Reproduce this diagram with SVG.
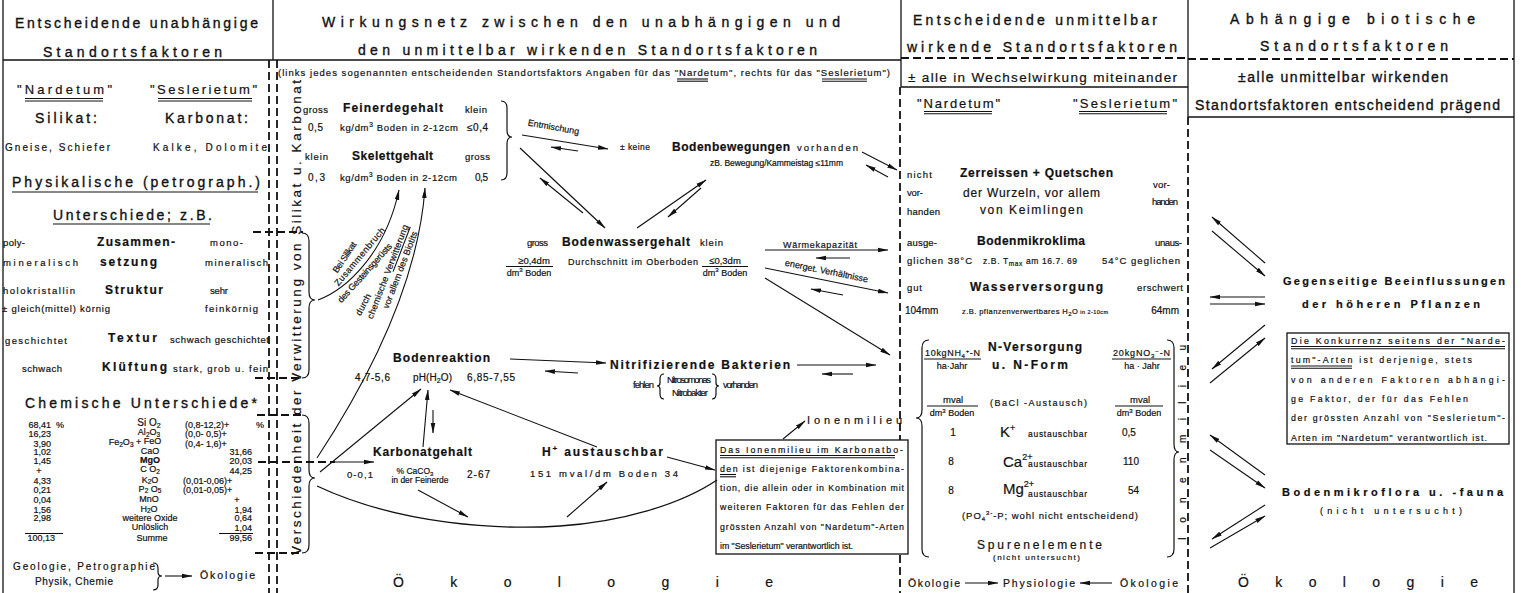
<svg xmlns="http://www.w3.org/2000/svg" width="1521" height="593" viewBox="0 0 1521 593">
<defs>
<marker id="ah" markerWidth="11" markerHeight="6" refX="10" refY="3" orient="auto" markerUnits="userSpaceOnUse"><path d="M0,0.7 L10.5,3 L0,5.3 z" fill="#111"/></marker>
</defs>
<style>
text{font-family:"Liberation Sans",Arial,sans-serif;fill:#111;stroke:#111;stroke-width:0.2}
.h{font-size:14px;stroke-width:0.35}
.b{font-weight:bold;font-size:12px}
.s{font-size:9.5px}
.xs{font-size:8.5px}
.c{text-anchor:middle}
.e{text-anchor:end}
.ln{stroke:#111;stroke-width:1.3;fill:none}
.ul{stroke:#111;stroke-width:1.1;fill:none}
.dl{stroke:#111;stroke-width:1.8;fill:none;stroke-dasharray:8 4}
.ar{stroke:#111;stroke-width:1.1;fill:none;marker-end:url(#ah)}
.br{stroke:#111;stroke-width:1.2;fill:none}
</style>
<rect width="1521" height="593" fill="#fff"/>

<g id="frame">
<line class="ln" x1="3" y1="0" x2="3" y2="593" stroke-width="2"/>
<line class="ln" x1="1514" y1="0" x2="1514" y2="593" stroke-width="2"/>
<line class="ln" x1="3" y1="60" x2="901" y2="60"/>
<line class="ln" x1="273" y1="0" x2="273" y2="60"/>
<line class="ln" x1="901" y1="0" x2="901" y2="87"/>
<line class="ln" x1="1188" y1="0" x2="1188" y2="117"/>
<line class="dl" x1="901" y1="58" x2="1188" y2="58"/>
<line class="ln" x1="901" y1="87" x2="1188" y2="87"/>
<line class="dl" x1="1188" y1="59" x2="1514" y2="59"/>
<line class="ln" x1="1188" y1="117" x2="1514" y2="117"/>
<line class="dl" x1="269" y1="60" x2="269" y2="593"/>
<line class="dl" x1="277" y1="60" x2="277" y2="593"/>
<line class="dl" x1="900" y1="87" x2="900" y2="593"/>
<line class="dl" x1="1188" y1="117" x2="1188" y2="593"/>
<line class="dl" x1="253" y1="232" x2="303" y2="232"/>
<line class="dl" x1="255" y1="378" x2="303" y2="378"/>
<line class="dl" x1="257" y1="415" x2="303" y2="415"/>
<line class="dl" x1="255" y1="553" x2="303" y2="553"/>
</g>

<g id="col1-header">
<text class="h" x="15" y="28" textLength="243">Entscheidende unabhängige</text>
<text class="h" x="43" y="57" textLength="179">Standortsfaktoren</text>
</g>

<g id="col1-gesteine">
<text x="17" y="94" font-size="13" textLength="95">"Nardetum"</text>
<text x="150" y="94" font-size="13" textLength="107">"Seslerietum"</text>
<line class="ul" x1="25" y1="98.5" x2="103" y2="98.5"/><line class="ul" x1="25" y1="101" x2="103" y2="101" stroke-width="0.7"/>
<line class="ul" x1="158" y1="98.5" x2="252" y2="98.5"/><line class="ul" x1="158" y1="101" x2="252" y2="101" stroke-width="0.7"/>
<text class="h" x="35" y="123" textLength="62">Silikat:</text>
<text class="h" x="165" y="123" textLength="83">Karbonat:</text>
<text x="5" y="150.5" font-size="10" textLength="105">Gneise, Schiefer</text>
<text x="153" y="150.5" font-size="10" textLength="114">Kalke, Dolomite</text>
</g>

<g id="col1-physik">
<text class="h" x="12" y="187" textLength="248">Physikalische (petrograph.)</text>
<line class="ul" x1="12" y1="192" x2="258" y2="192"/>
<text class="h" x="53" y="220" textLength="159">Unterschiede; z.B.</text>
<line class="ul" x1="53" y1="224" x2="210" y2="224"/>
<text class="s" x="3" y="246" textLength="22">poly-</text>
<text class="b" x="97" y="246" textLength="78">Zusammen-</text>
<text class="s" x="210" y="246" textLength="33">mono-</text>
<text class="s" x="3" y="265.5" textLength="75">mineralisch</text>
<text class="b" x="100" y="266" textLength="57">setzung</text>
<text class="s" x="205" y="265.5" textLength="63">mineralisch</text>
<text class="s" x="3" y="293.5" textLength="72">holokristallin</text>
<text class="b" x="105" y="294" textLength="58">Struktur</text>
<text class="s" x="210" y="293.5" textLength="18">sehr</text>
<text class="s" x="2" y="311.5" textLength="108">± gleich(mittel) körnig</text>
<text class="s" x="205" y="311.5" textLength="53">feinkörnig</text>
<text class="s" x="5" y="343.5" textLength="62">geschichtet</text>
<text class="b" x="108" y="341.5" textLength="49">Textur</text>
<text class="s" x="170" y="342.5" textLength="99">schwach geschichtet</text>
<text class="s" x="22" y="371.5" textLength="40">schwach</text>
<text class="b" x="102" y="371" textLength="65">Klüftung</text>
<text class="s" x="173" y="371.5" textLength="95">stark, grob u. fein</text>
</g>

<g id="col1-chemie" font-size="9">
<text class="h" x="25" y="408" textLength="232">Chemische Unterschiede*</text>
<text class="e" x="51" y="427.5">68,41</text><text x="56" y="427.5">%</text>
<text class="e" x="51" y="437">16,23</text>
<text class="e" x="51" y="446.5">3,90</text>
<text class="e" x="51" y="454.5">1,02</text>
<text class="e" x="51" y="463.5">1,45</text>
<text class="c" x="39" y="473.5">+</text>
<text class="e" x="51" y="483.5">4,33</text>
<text class="e" x="51" y="493">0,21</text>
<text class="e" x="51" y="503">0,04</text>
<text class="e" x="51" y="513">1,56</text>
<text class="e" x="51" y="521">2,98</text>
<text class="e" x="55" y="541">100,13</text>
<line class="ul" x1="25" y1="533.5" x2="63" y2="533.5"/>
<text class="c" x="149" y="426" font-size="10">Si O<tspan dy="2" font-size="7">2</tspan></text>
<text class="c" x="149" y="435">Al<tspan dy="1.5" font-size="6.5">2</tspan><tspan dy="-1.5">O</tspan><tspan dy="1.5" font-size="6.5">3</tspan></text>
<text class="c" x="135" y="445">Fe<tspan dy="1.5" font-size="6.5">2</tspan><tspan dy="-1.5">O</tspan><tspan dy="1.5" font-size="6.5">3</tspan><tspan dy="-1.5"> + </tspan><tspan dy="-1">FeO</tspan></text>
<text class="c" x="150" y="454">CaO</text>
<text class="c" x="150" y="463" font-weight="bold">MgO</text>
<text class="c" x="150" y="472">C O<tspan dy="1.5" font-size="6.5">2</tspan></text>
<text class="c" x="150" y="482.5">K<tspan dy="1.5" font-size="6.5">2</tspan><tspan dy="-1.5">O</tspan></text>
<text class="c" x="150" y="491.5">P<tspan dy="1.5" font-size="6.5">2</tspan><tspan dy="-1.5"> O</tspan><tspan dy="1.5" font-size="6.5">5</tspan></text>
<text class="c" x="149" y="502">MnO</text>
<text class="c" x="149" y="511.5">H<tspan dy="1.5" font-size="6.5">2</tspan><tspan dy="-1.5">O</tspan></text>
<text class="c" x="150" y="520.5">weitere Oxide</text>
<text class="c" x="150" y="530">Unlöslich</text>
<text class="c" x="152" y="540.5">Summe</text>
<text x="185" y="427.5">(0,8-12,2)+</text><text x="256" y="427.5">%</text>
<text x="185" y="437">(0,0- 0,5)+</text>
<text x="185" y="446.5">(0,4- 1,6)+</text>
<text class="e" x="252" y="454.5">31,66</text>
<text class="e" x="252" y="463.5">20,03</text>
<text class="e" x="252" y="473.5">44,25</text>
<text x="183" y="483.5">(0,01-0,06)+</text>
<text x="183" y="493">(0,01-0,05)+</text>
<text class="c" x="237" y="503">+</text>
<text class="e" x="252" y="513">1,94</text>
<text class="e" x="252" y="521">0,64</text>
<text class="e" x="252" y="530.5">1,04</text>
<line class="ul" x1="219" y1="533.5" x2="253" y2="533.5"/>
<text class="e" x="252" y="541">99,56</text>
</g>

<g id="col1-footer">
<text x="13" y="570" font-size="10" textLength="142">Geologie, Petrographie</text>
<text x="35" y="585" font-size="10" textLength="78">Physik, Chemie</text>
<path class="br" d="M153,563 Q158,563 158,568 L158,572 Q158,576 162,576 Q158,576 158,580 L158,585 Q158,590 153,590"/>
<text x="200" y="579" font-size="10.5" textLength="55">Ökologie</text>
</g>

<g id="col2-header">
<text class="h" x="322" y="27" textLength="518">Wirkungsnetz zwischen den unabhängigen und</text>
<text class="h" x="358" y="55" textLength="459">den unmittelbar wirkenden Standortsfaktoren</text>
<text class="s" x="278" y="75.5" textLength="612">(links jedes sogenannten entscheidenden Standortsfaktors Angaben für das "Nardetum", rechts für das "Seslerietum")</text>
<line class="ul" x1="677" y1="79" x2="708" y2="79"/><line class="ul" x1="677" y1="81.2" x2="708" y2="81.2" stroke-width="0.7"/>
<line class="ul" x1="822" y1="79" x2="867" y2="79"/><line class="ul" x1="822" y1="81.2" x2="867" y2="81.2" stroke-width="0.7"/>
</g>

<g id="col2-verwitterung">
<text transform="translate(301,555) rotate(-90)" font-size="13.5" stroke-width="0.35" textLength="475">Verschiedenheit der Verwitterung von Silikat u. Karbonat</text>
<path class="br" d="M302,233 Q309,233 309,241 L309,292 Q309,300 315,300 Q309,300 309,308 L309,370 Q309,378 302,378"/>
<path class="br" d="M302,415 Q309,415 309,423 L309,470 Q309,478 315,478 Q309,478 309,486 L309,545 Q309,553 302,553"/>
<text transform="translate(347,259) rotate(-56)" class="c" font-size="9" textLength="35">Bei Silikat</text>
<text transform="translate(362,258.5) rotate(-50)" class="c" font-size="9" textLength="73">Zusammenbruch</text>
<text transform="translate(367,275) rotate(-48)" class="c" font-size="9" textLength="76">des Gesteinsgerüsts</text>
<text transform="translate(366,306) rotate(-62)" class="c" font-size="9" textLength="23">durch</text>
<g transform="translate(390.5,272.8) rotate(-69)"><text class="c" font-size="9" textLength="100">chemische Verwitterung</text><line class="ul" x1="2" y1="2" x2="50" y2="2"/></g>
<text transform="translate(403,271) rotate(-69)" class="c" font-size="9" textLength="82">vor allem des Biotits</text>
</g>

<g id="feinerde-skelett">
<text class="s" x="303" y="113" textLength="25">gross</text>
<text class="b" x="343" y="112" textLength="100">Feinerdegehalt</text>
<text class="s" x="465" y="113" textLength="22">klein</text>
<text x="308" y="131" font-size="10" textLength="15">0,5</text>
<text class="s" x="340" y="131" textLength="118">kg/dm<tspan dy="-4" font-size="6.5">3</tspan><tspan dy="4"> Boden in 2-12cm</tspan></text>
<text x="467" y="131" font-size="10" textLength="21">≤0,4</text>
<text class="s" x="305" y="160" textLength="23">klein</text>
<text class="b" x="352" y="160" textLength="81">Skelettgehalt</text>
<text class="s" x="465" y="160" textLength="25">gross</text>
<text x="308" y="181" font-size="10" textLength="17">0,3</text>
<text class="s" x="340" y="181" textLength="117">kg/dm<tspan dy="-4" font-size="6.5">3</tspan><tspan dy="4"> Boden in 2-12cm</tspan></text>
<text x="475" y="181" font-size="10" textLength="13">0,5</text>
<path class="br" d="M501,101 Q507,101 507,108 L507,130 Q507,137 512,137 Q507,137 507,144 L507,173 Q507,180 501,180"/>
</g>

<g id="bodenbewegungen">
<text x="620" y="150" font-size="8.5" textLength="30">± keine</text>
<text class="b" x="672" y="151" textLength="118">Bodenbewegungen</text>
<text class="s" x="797" y="151" textLength="61">vorhanden</text>
<text x="710" y="166" font-size="8.5" textLength="133">zB. Bewegung/Kammeistag   ≤11mm</text>
</g>

<g id="bodenwassergehalt">
<text class="s" x="527" y="245.5" textLength="21">gross</text>
<text class="b" x="562" y="246" textLength="128">Bodenwassergehalt</text>
<text class="s" x="700" y="245.5" textLength="23">klein</text>
<text class="c" x="534" y="264" font-size="9.5">≥0,4dm</text>
<line class="ul" x1="506" y1="266.5" x2="553" y2="266.5"/>
<text class="c" x="529" y="275.5" font-size="9">dm<tspan dy="-3.5" font-size="6">3</tspan><tspan dy="3.5"> Boden</tspan></text>
<text x="568" y="265" font-size="9" textLength="130">Durchschnitt im Oberboden</text>
<text class="c" x="725" y="264" font-size="9.5">≤0,3dm</text>
<line class="ul" x1="702" y1="266.5" x2="748" y2="266.5"/>
<text class="c" x="725" y="275.5" font-size="9">dm<tspan dy="-3.5" font-size="6">3</tspan><tspan dy="3.5"> Boden</tspan></text>
</g>

<g id="bodenreaktion">
<text class="b" x="393" y="362" textLength="97">Bodenreaktion</text>
<text x="355" y="381" font-size="10" textLength="35">4,7-5,6</text>
<text x="413" y="381" font-size="10" textLength="39">pH(H<tspan dy="2" font-size="7">2</tspan><tspan dy="-2">O)</tspan></text>
<text x="467" y="381" font-size="10" textLength="48">6,85-7,55</text>
</g>

<g id="nitrifizierende-bakterien">
<text class="b" x="610" y="369" textLength="180">Nitrifizierende Bakterien</text>
<text class="s" x="633" y="388" textLength="21">fehlen</text>
<path class="br" d="M664,374 Q660,374 660,379 L660,383 Q660,386 657,386 Q660,386 660,389 L660,394 Q660,399 664,399"/>
<text class="s" x="667" y="383" textLength="44">Nitrosomonas</text>
<text class="s" x="672" y="396" textLength="36">Nitrobakter</text>
<path class="br" d="M712,374 Q716,374 716,379 L716,383 Q716,386 719,386 Q716,386 716,389 L716,394 Q716,399 712,399"/>
<text class="s" x="723" y="388" textLength="35">vorhanden</text>
</g>

<g id="karbonatgehalt">
<text class="b" x="373" y="456" textLength="99">Karbonatgehalt</text>
<text x="347" y="478" font-size="9.5" textLength="26">0-0,1</text>
<text class="c" x="415" y="474" font-size="8.5">% CaCO<tspan dy="2" font-size="6">3</tspan></text>
<text class="c" x="420" y="483" font-size="8.5">in der Feinerde</text>
<text x="467" y="478" font-size="10" textLength="23">2-67</text>
</g>

<g id="h-austauschbar">
<text class="b" x="542" y="456" textLength="121">H<tspan dy="-5" font-size="8">+</tspan><tspan dy="5"> austauschbar</tspan></text>
<text x="530" y="477" font-size="9.5" textLength="148">151  mval/dm   Boden   34</text>
</g>

<g id="ionenmilieu-box">
<text x="807" y="424" font-size="11" textLength="95">Ionenmilieu</text>
<rect x="716" y="440" width="192" height="114" fill="#fff" stroke="#111" stroke-width="1.3"/>
<g font-size="8.8">
<text x="720" y="452.5" textLength="183">Das Ionenmilieu im Karbonatbo-</text>
<text x="720" y="471.5" textLength="184">den ist diejenige Faktorenkombina-</text>
<text x="720" y="490.5" textLength="184">tion, die allein oder in Kombination mit</text>
<text x="720" y="510" textLength="184">weiteren Faktoren für das Fehlen der</text>
<text x="720" y="529.5" textLength="184">grössten Anzahl von "Nardetum"-Arten</text>
<text x="720" y="548.5" textLength="133">im "Seslerietum" verantwortlich ist.</text>
</g>
<line class="ul" x1="720" y1="455.5" x2="895" y2="455.5"/><line class="ul" x1="720" y1="457.8" x2="895" y2="457.8" stroke-width="0.7"/>
<line class="ul" x1="720" y1="474.5" x2="736" y2="474.5"/><line class="ul" x1="720" y1="476.8" x2="736" y2="476.8" stroke-width="0.7"/>
</g>

<g id="col2-footer">
<text x="393" y="587" font-size="14" stroke-width="0.35" textLength="380">Ökologie</text>
</g>

<g id="col3-header">
<text class="h" x="913" y="25" textLength="244">Entscheidende unmittelbar</text>
<text class="h" x="907" y="52" textLength="270">wirkende Standortsfaktoren</text>
<text x="908" y="82" font-size="13.5" stroke-width="0.35" textLength="269">± alle in Wechselwirkung miteinander</text>
</g>

<g id="col3-gesellschaften">
<text x="917" y="108" font-size="13" textLength="83">"Nardetum"</text>
<text x="1073" y="108" font-size="13" textLength="104">"Seslerietum"</text>
<line class="ul" x1="924" y1="111.5" x2="992" y2="111.5"/><line class="ul" x1="924" y1="113.8" x2="992" y2="113.8" stroke-width="0.7"/>
<line class="ul" x1="1079" y1="111.5" x2="1167" y2="111.5"/><line class="ul" x1="1079" y1="113.8" x2="1167" y2="113.8" stroke-width="0.7"/>
</g>

<g id="zerreissen">
<text class="s" x="907" y="178" textLength="25">nicht</text>
<text class="b" x="960" y="177" textLength="153">Zerreissen + Quetschen</text>
<text class="s" x="1153" y="188" textLength="17">vor-</text>
<text class="s" x="907" y="196" textLength="16">vor-</text>
<text x="963" y="197" font-size="12" stroke-width="0.35" textLength="137">der Wurzeln, vor allem</text>
<text class="s" x="907" y="215" textLength="33">handen</text>
<text x="980" y="214" font-size="12" stroke-width="0.35" textLength="103">von Keimlingen</text>
<text class="s" x="1152" y="205" textLength="26">handen</text>
</g>

<g id="bodenmikroklima">
<text class="s" x="907" y="246" textLength="30">ausge-</text>
<text class="b" x="977" y="245" textLength="108">Bodenmikroklima</text>
<text class="s" x="1155" y="246" textLength="27">unaus-</text>
<text class="s" x="907" y="263.5" textLength="65">glichen 38°C</text>
<text x="983" y="263.5" font-size="8.5" textLength="94">z.B. T<tspan dy="2" font-size="6.5">max</tspan><tspan dy="-2"> am 16.7. 69</tspan></text>
<text class="s" x="1102" y="263.5" textLength="78">54°C geglichen</text>
</g>

<g id="wasserversorgung">
<text class="s" x="907" y="291" textLength="15">gut</text>
<text class="b" x="970" y="291" textLength="133">Wasserversorgung</text>
<text class="s" x="1137" y="291" textLength="46">erschwert</text>
<text x="905" y="313.5" font-size="10">104mm</text>
<text x="962" y="313.5" font-size="7.5" textLength="146">z.B. pflanzenverwertbares H<tspan dy="2" font-size="6">2</tspan><tspan dy="-2">O</tspan><tspan font-size="5.5"> in 2-10cm</tspan></text>
<text class="e" x="1179" y="313.5" font-size="10">64mm</text>
</g>

<g id="n-versorgung-ionen">
<path class="br" d="M929,340 Q922,340 922,348 L922,410 Q922,418 916,418 Q922,418 922,426 L922,549 Q922,557 929,557"/>
<path class="br" d="M1167,340 Q1174,340 1174,348 L1174,444 Q1174,452 1179,452 Q1174,452 1174,460 L1174,549 Q1174,557 1167,557"/>
<text x="925" y="356" font-size="9" textLength="55">10kgNH<tspan dy="2" font-size="6">4</tspan><tspan dy="-5" font-size="6">+</tspan><tspan dy="3">-N</tspan></text>
<line class="ul" x1="924" y1="359" x2="981" y2="359"/>
<text class="c" x="952" y="368.5" font-size="9">ha·Jahr</text>
<text class="b" x="988" y="351" textLength="94">N-Versorgung</text>
<text class="b" x="992" y="369" textLength="76">u. N-Form</text>
<text x="1113" y="356" font-size="9" textLength="57">20kgNO<tspan dy="2" font-size="6">3</tspan><tspan dy="-5" font-size="6">−</tspan><tspan dy="3">-N</tspan></text>
<line class="ul" x1="1112" y1="359" x2="1171" y2="359"/>
<text class="c" x="1142" y="368.5" font-size="9">ha · Jahr</text>
<text class="c" x="953" y="403" font-size="9.5">mval</text>
<line class="ul" x1="927" y1="406" x2="978" y2="406"/>
<text class="c" x="952" y="416" font-size="9">dm<tspan dy="-3.5" font-size="6">3</tspan><tspan dy="3.5"> Boden</tspan></text>
<text x="990" y="406" font-size="9" textLength="97">(BaCl -Austausch)</text>
<text class="c" x="1140" y="403" font-size="9.5">mval</text>
<line class="ul" x1="1115" y1="406" x2="1163" y2="406"/>
<text class="c" x="1139" y="416" font-size="9">dm<tspan dy="-3.5" font-size="6">3</tspan><tspan dy="3.5"> Boden</tspan></text>
<text class="c" x="953" y="436" font-size="10">1</text>
<text x="1000" y="437" font-size="15">K<tspan dy="-6" font-size="9">+</tspan></text>
<text x="1028" y="437" font-size="8.5" textLength="59">austauschbar</text>
<text x="1122" y="436" font-size="10">0,5</text>
<text class="c" x="951" y="465" font-size="10">8</text>
<text x="1003" y="467" font-size="15">Ca<tspan dy="-7" font-size="9">2+</tspan></text>
<text x="1028" y="467" font-size="8.5" textLength="59">austauschbar</text>
<text x="1123" y="465" font-size="10">110</text>
<text class="c" x="951" y="494" font-size="10">8</text>
<text x="1003" y="494" font-size="15">Mg<tspan dy="-7" font-size="9">2+</tspan></text>
<text x="1028" y="497" font-size="8.5" textLength="59">austauschbar</text>
<text x="1128" y="494" font-size="10">54</text>
<text x="962" y="519" font-size="9.5" textLength="176">(PO<tspan dy="2" font-size="6">4</tspan><tspan dy="-6" font-size="6">3-</tspan><tspan dy="4">-P;  wohl  nicht  entscheidend)</tspan></text>
<text x="977" y="549" font-size="12" stroke-width="0.35" textLength="125">Spurenelemente</text>
<text x="993" y="560" font-size="8" textLength="87">(nicht untersucht)</text>
<text transform="translate(1186,540) rotate(-90)" font-size="10" textLength="195">Ionenmilieu</text>
</g>

<g id="col3-footer">
<text x="908" y="587" font-size="10.5" textLength="52">Ökologie</text>
<text x="1003" y="587" font-size="10.5" textLength="72">Physiologie</text>
<text x="1120" y="587" font-size="10.5" textLength="58">Ökologie</text>
</g>

<g id="col4-header">
<text class="h" x="1230" y="24" textLength="245">Abhängige biotische</text>
<text class="h" x="1260" y="51" textLength="188">Standortsfaktoren</text>
<text class="h" x="1238" y="82" textLength="210">±alle unmittelbar wirkenden</text>
<text class="h" x="1195" y="110" textLength="305">Standortsfaktoren entscheidend prägend</text>
</g>

<g id="hoehere-pflanzen">
<text x="1283" y="285" font-size="11" font-weight="bold" textLength="222">Gegenseitige Beeinflussungen</text>
<text x="1302" y="308" font-size="11" font-weight="bold" textLength="178">der höheren Pflanzen</text>
</g>

<g id="konkurrenz-box">
<rect x="1287" y="333" width="222" height="111" fill="#fff" stroke="#111" stroke-width="1.3"/>
<g font-size="8.8">
<text x="1291" y="343.5" textLength="214">Die Konkurrenz seitens der "Narde-</text>
<text x="1291" y="363" textLength="181">tum"-Arten ist derjenige, stets</text>
<text x="1291" y="382.5" textLength="214">von anderen Faktoren abhängi-</text>
<text x="1291" y="401.5" textLength="177">ge Faktor, der für das Fehlen</text>
<text x="1291" y="421" textLength="214">der grössten Anzahl von "Seslerietum"-</text>
<text x="1291" y="440.5" textLength="196">Arten im "Nardetum" verantwortlich ist.</text>
</g>
<line class="ul" x1="1291" y1="346.5" x2="1505" y2="346.5"/><line class="ul" x1="1291" y1="348.8" x2="1505" y2="348.8" stroke-width="0.7"/>
<line class="ul" x1="1291" y1="366" x2="1352" y2="366"/><line class="ul" x1="1291" y1="368.3" x2="1352" y2="368.3" stroke-width="0.7"/>
</g>

<g id="bodenmikroflora">
<text x="1282" y="496" font-size="11" font-weight="bold" textLength="221">Bodenmikroflora u. -fauna</text>
<text x="1320" y="514" font-size="9" textLength="142">(nicht untersucht)</text>
</g>

<g id="col4-footer">
<text x="1238" y="587" font-size="14" stroke-width="0.35" textLength="240">Ökologie</text>
</g>

<g id="connectors">
<path class="ar" d="M165,576 L192,576"/>
<path class="ar" d="M522,135 L608,149"/>
<path class="ar" d="M578,151 L551,147"/>
<text transform="translate(553,130) rotate(10)" class="c" font-size="9">Entmischung</text>
<path class="ar" d="M520,148 L605,228"/>
<path class="ar" d="M583,213 L540,178"/>
<path class="ar" d="M637,228 L706,180"/>
<path class="ar" d="M701,188 L668,217"/>
<path class="ar" d="M862,152 L897,170"/>
<path class="ar" d="M888,177 L866,165"/>
<path class="ar" d="M765,250 L888,250"/>
<path class="ar" d="M850,258 L816,258"/>
<text x="783" y="248" font-size="9" textLength="74">Wärmekapazität</text>
<path class="ar" d="M765,268 L888,293"/>
<path class="ar" d="M843,295 L811,289"/>
<text transform="translate(826,274) rotate(11.5)" class="c" font-size="9">energet. Verhältnisse</text>
<path class="ar" d="M765,278 L890,355"/>
<path class="ar" d="M510,359 L606,363"/>
<path class="ar" d="M578,373 L545,371"/>
<path class="ar" d="M797,365 L876,365"/>
<path class="ar" d="M853,374 L822,374"/>
<path class="ar" d="M318,300 C345,290 385,255 399,190"/>
<path class="ar" d="M317,458 C365,385 418,285 425,188"/>
<path class="ar" d="M320,472 L421,389"/>
<line class="dl" x1="258" y1="462" x2="335" y2="462"/>
<path class="ar" d="M335,462 L374,462"/>
<path class="ar" d="M423,447 L428,390"/>
<path class="ar" d="M433,410 L433,433"/>
<path class="ar" d="M597,447 L450,390"/>
<path class="ar" d="M418,490 L468,517"/>
<path class="ln" stroke-width="1.1" d="M317,486 C400,525 500,530 560,526 C620,522 680,505 717,480"/>
<path class="ar" d="M567,517 L607,482"/>
<path class="ar" d="M667,457 L715,470"/>
<path class="ar" d="M783,439 L805,421"/>
<path class="ar" d="M965,583 L998,583"/>
<path class="ar" d="M1112,583 L1080,583"/>
<path class="ar" d="M1265,263 L1212,217"/>
<path class="ar" d="M1212,231 L1265,276"/>
<path class="ar" d="M1265,297 L1210,297"/>
<path class="ar" d="M1210,304 L1265,304"/>
<path class="ar" d="M1265,325 L1212,369"/>
<path class="ar" d="M1210,383 L1265,338"/>
<path class="ar" d="M1265,475 L1210,435"/>
<path class="ar" d="M1210,450 L1265,488"/>
<path class="ar" d="M1265,505 L1212,539"/>
<path class="ar" d="M1210,548 L1265,516"/>
</g>
</svg>
